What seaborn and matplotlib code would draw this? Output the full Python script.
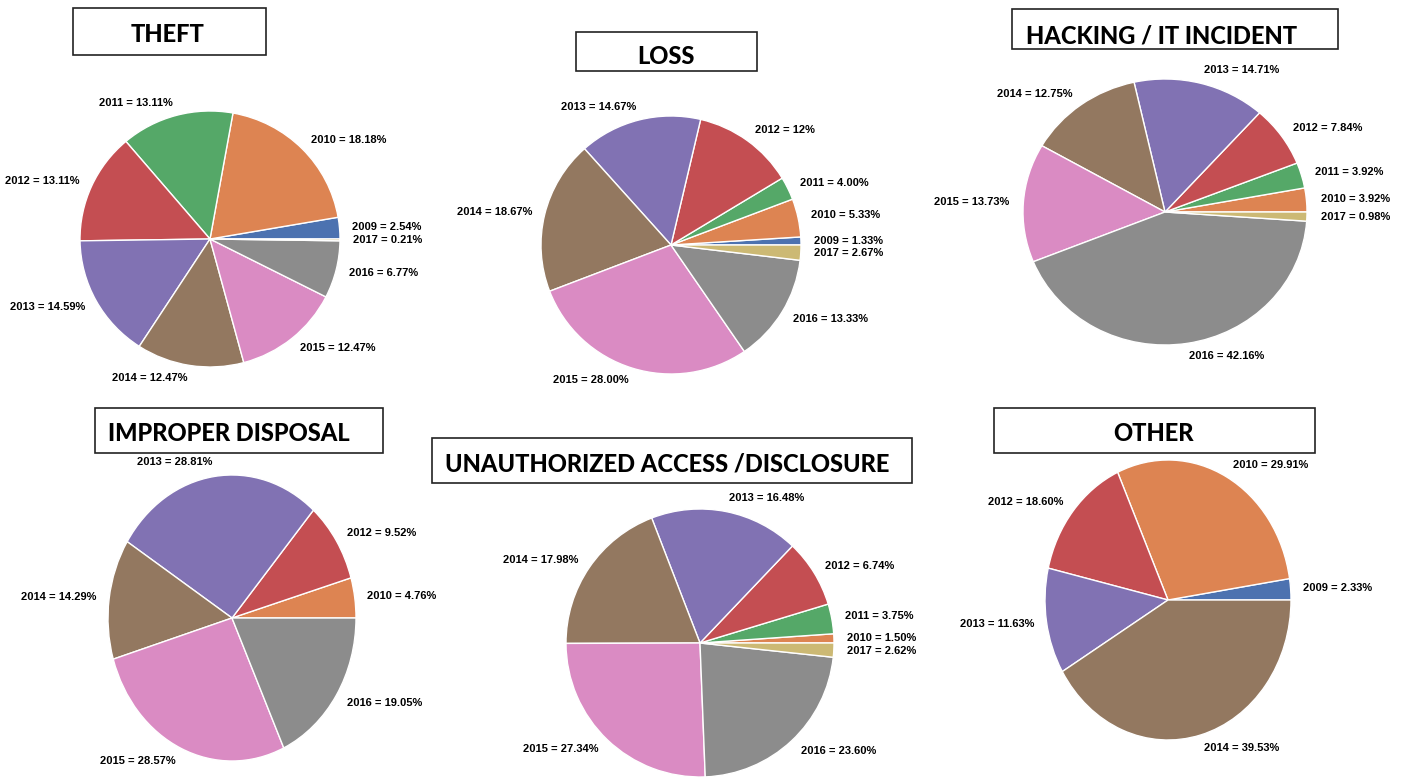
import matplotlib
matplotlib.use("Agg")
import matplotlib.pyplot as plt
from matplotlib.patches import Rectangle
import seaborn as sns

# --- DATA ---
# *_pct: percent labels exactly as printed; *_share: slice sizes as drawn
# (several pies in the source were drawn from numbers that differ a bit from the labels)
theft_years = [2009, 2010, 2011, 2012, 2013, 2014, 2015, 2016, 2017]
theft_pct = ["2.54", "18.18", "13.11", "13.11", "14.59", "12.47", "12.47", "6.77", "0.21"]
theft_share = [2.54, 18.18, 13.11, 13.11, 14.59, 12.47, 12.47, 6.77, 0.21]

loss_years = [2009, 2010, 2011, 2012, 2013, 2014, 2015, 2016, 2017]
loss_pct = ["1.33", "5.33", "4.00", "12", "14.67", "18.67", "28.00", "13.33", "2.67"]
loss_share = [1.0, 4.8, 2.9, 12.7, 15.3, 19.3, 28.8, 13.6, 1.9]

hack_years = [2010, 2011, 2012, 2013, 2014, 2015, 2016, 2017]
hack_pct = ["3.92", "3.92", "7.84", "14.71", "12.75", "13.73", "42.16", "0.98"]
hack_share = [2.9, 3.1, 7.4, 15.1, 13.2, 14.4, 42.8, 1.1]

disposal_years = [2010, 2012, 2013, 2014, 2015, 2016]
disposal_pct = ["4.76", "9.52", "28.81", "14.29", "28.57", "19.05"]
disposal_share = [4.76, 9.52, 28.81, 14.29, 28.57, 19.05]

access_years = [2010, 2011, 2012, 2013, 2014, 2015, 2016, 2017]
access_pct = ["1.50", "3.75", "6.74", "16.48", "17.98", "27.34", "23.60", "2.62"]
access_share = [1.1, 3.6, 8.2, 18.0, 19.2, 25.6, 22.7, 1.7]

other_years = [2009, 2010, 2012, 2013, 2014]
other_pct = ["2.33", "29.91", "18.60", "11.63", "39.53"]
other_share = [2.33, 27.91, 13.95, 11.63, 39.53]

titles = ["THEFT", "LOSS", "HACKING / IT INCIDENT", "IMPROPER DISPOSAL",
          "UNAUTHORIZED ACCESS /DISCLOSURE", "OTHER"]

# --- LAYOUT (pixels in a 1405x778 canvas) ---
W, H = 1405, 778
# pie centre x, centre y, radius x, radius y
pie_pos = [(210, 239, 130, 128), (671, 245, 130, 129), (1165, 212, 142, 133),
           (232, 618, 124, 143), (700, 643, 134, 134), (1168, 600, 123, 140)]
# title box x0, y0, x1, y1 ; text x, baseline y, alignment
box_pos = [(73, 8, 266, 55), (576, 32, 757, 71), (1012, 9, 1338, 49),
           (95, 408, 383, 453), (432, 438, 912, 483), (994, 408, 1315, 453)]
text_pos = [(168, 42, "center"), (666, 64, "center"), (1026, 43, "left"),
            (108, 441, "left"), (445, 471, "left"), (1153, 441, "center")]

sns.set_theme(style="white")
plt.rcParams["font.family"] = ["Liberation Sans", "DejaVu Sans"]

palette = dict(zip(range(2009, 2018), sns.color_palette("deep", 9)))

panels = [
    (theft_years, theft_pct, theft_share),
    (loss_years, loss_pct, loss_share),
    (hack_years, hack_pct, hack_share),
    (disposal_years, disposal_pct, disposal_share),
    (access_years, access_pct, access_share),
    (other_years, other_pct, other_share),
]

fig = plt.figure(figsize=(W / 100, H / 100), dpi=100)

for (years, pct, values), (cx, cy, rx, ry) in zip(panels, pie_pos):
    ax = fig.add_axes([(cx - 2 * rx) / W, 1 - (cy + 2 * ry) / H, 4 * rx / W, 4 * ry / H])
    labels = [f"{y} = {p}%" for y, p in zip(years, pct)]
    ax.pie(values, labels=labels, colors=[palette[y] for y in years],
           startangle=0, counterclock=True,
           wedgeprops=dict(edgecolor="white", linewidth=1),
           textprops=dict(fontsize=8, fontweight="bold", color="black"))
    ax.set_aspect("auto")
    ax.set_xlim(-2, 2)
    ax.set_ylim(-2, 2)

for title, (x0, y0, x1, y1), (tx, ty, ha) in zip(titles, box_pos, text_pos):
    fig.add_artist(Rectangle((x0 / W, 1 - y1 / H), (x1 - x0) / W, (y1 - y0) / H,
                             transform=fig.transFigure, facecolor="white",
                             edgecolor="#222222", linewidth=1.2))
    fig.text(tx / W, 1 - ty / H, title, ha=ha, va="baseline", fontsize=17,
             fontweight="black", family=["Lato", "DejaVu Sans"], color="black")

fig.savefig("out.png", dpi=100, facecolor="white")
